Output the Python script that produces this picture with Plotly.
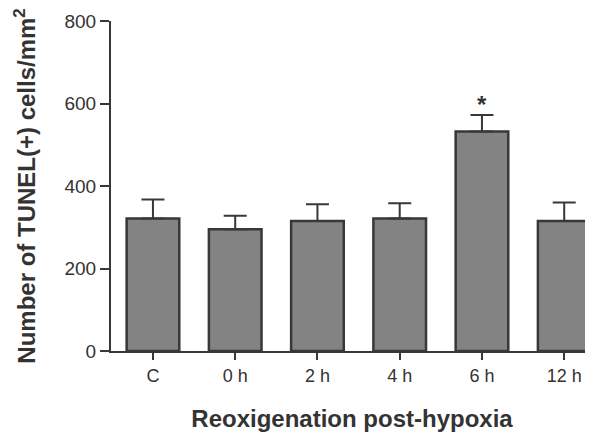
import plotly.graph_objects as go

categories = ["C", "0 h", "2 h", "4 h", "6 h", "12 h"]
values = [321, 295, 315, 321, 532, 315]
errors = [46, 33, 41, 37, 40, 45]
y_ticks = [0, 200, 400, 600, 800]
significant = ["6 h"]

TXT = "#333333"
LINE = "#383838"
FONT = "Liberation Sans, Arial, Helvetica, sans-serif"

fig = go.Figure()
fig.add_trace(go.Bar(
    x=categories,
    y=values,
    width=0.64,
    marker=dict(color="#838383", line=dict(color=LINE, width=2.5)),
    error_y=dict(type="data", symmetric=False, array=errors,
                 arrayminus=[0] * len(errors),
                 color=LINE, thickness=2, width=11.5),
    showlegend=False,
))

for cat in significant:
    i = categories.index(cat)
    fig.add_annotation(x=cat, y=values[i] + errors[i], text="<b>*</b>",
                       showarrow=False, yanchor="bottom", yshift=-5,
                       font=dict(size=24, color=TXT, family=FONT))

# page has an 8px body margin, so the figure is sized to fit the window
fig.update_layout(
    width=585, height=426,
    margin=dict(l=103, r=0, t=13, b=83),
    plot_bgcolor="white", paper_bgcolor="white",
    font=dict(family=FONT, color=TXT),
)
fig.update_xaxes(
    range=[-0.51, 5.35],
    showline=True, linecolor=LINE, linewidth=2,
    ticks="outside", ticklen=7, tickwidth=2, tickcolor=LINE,
    tickfont=dict(size=18, color=TXT),
    showgrid=False, zeroline=False,
    title=dict(text="<b>Reoxigenation post-hypoxia</b>",
               font=dict(size=24, color=TXT), standoff=26),
)
fig.update_yaxes(
    range=[0, 800], tickvals=y_ticks,
    showline=True, linecolor=LINE, linewidth=2,
    ticks="outside", ticklen=9, tickwidth=2, tickcolor=LINE,
    tickfont=dict(size=19, color=TXT),
    showgrid=False, zeroline=False,
    title=dict(text="<b>Number of TUNEL(+) cells/mm<sup>2</sup></b>",
               font=dict(size=24, color=TXT), standoff=22),
)

fig.write_html("out.html")
